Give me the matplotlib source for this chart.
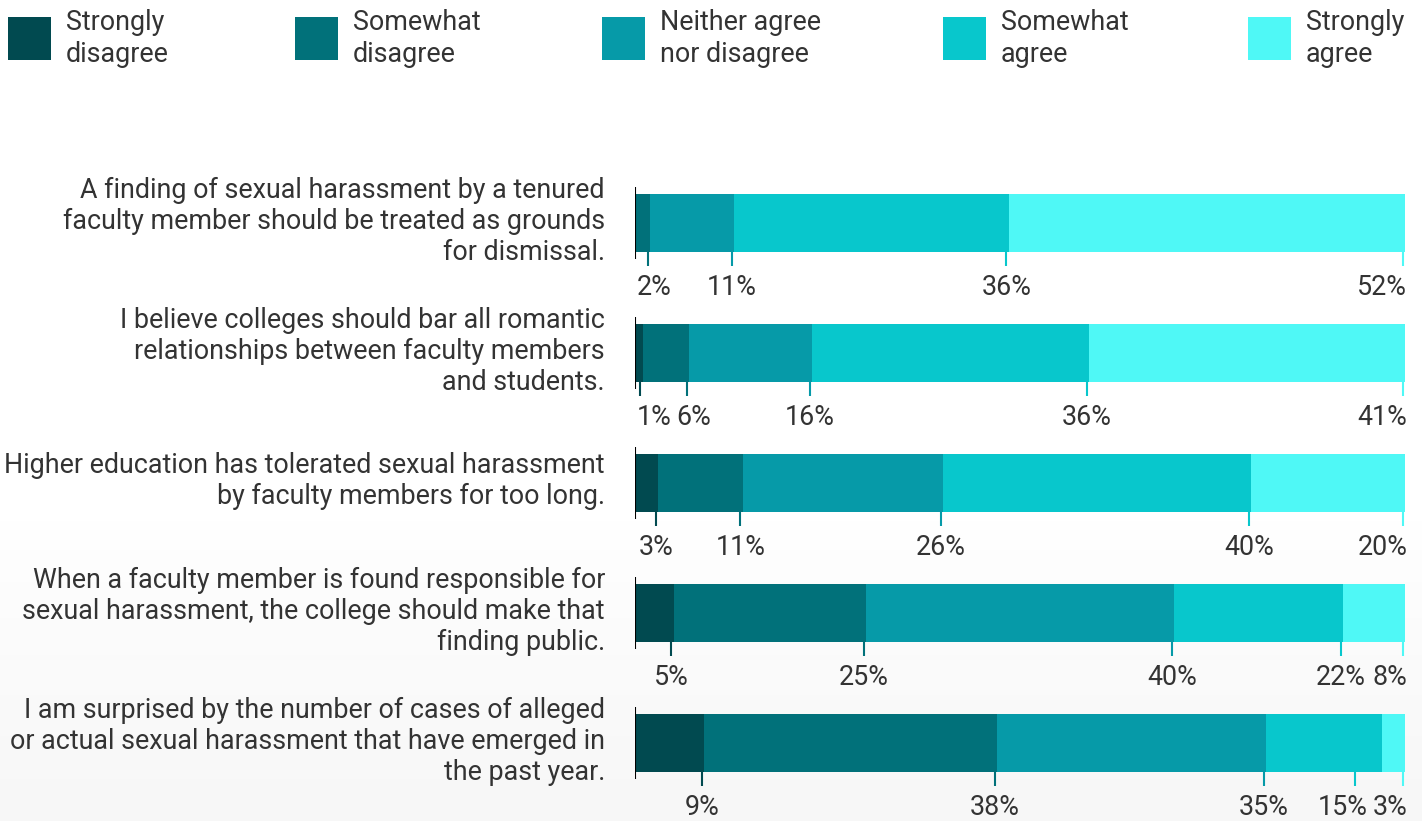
#
# Survey on faculty sexual harassment - stacked horizontal bars
#

import numpy as np
import matplotlib
matplotlib.use('Agg')
from matplotlib import pyplot as plt
from matplotlib.patches import Rectangle

plt.rcParams['font.family'] = ['Roboto', 'DejaVu Sans']
plt.rcParams['font.size'] = 19.4

# ============================= data ======================================

categories = ['Strongly\ndisagree', 'Somewhat\ndisagree', 'Neither agree\nnor disagree',
              'Somewhat\nagree', 'Strongly\nagree']
colors = ['#014a50', '#01717a', '#069aa8', '#08c7cc', '#4ff8f6']

questions = [
    'A finding of sexual harassment by a tenured\nfaculty member should be treated as grounds\nfor dismissal.',
    'I believe colleges should bar all romantic\nrelationships between faculty members\nand students.',
    'Higher education has tolerated sexual harassment\nby faculty members for too long.',
    'When a faculty member is found responsible for\nsexual harassment, the college should make that\nfinding public.',
    'I am surprised by the number of cases of alleged\nor actual sexual harassment that have emerged in\nthe past year.',
]

strongly_disagree = [0, 1, 3, 5, 9]
somewhat_disagree = [2, 6, 11, 25, 38]
neither = [11, 16, 26, 40, 35]
somewhat_agree = [36, 36, 40, 22, 15]
strongly_agree = [52, 41, 20, 8, 3]

# =========================================================================

W, H = 1422, 821
TXT = '#333333'
fig = plt.figure(figsize=(W / 100, H / 100), dpi=100)

# background + legend layer in pixel coordinates
bg = fig.add_axes([0, 0, 1, 1], zorder=0)
bg.set_xlim(0, W)
bg.set_ylim(H, 0)
bg.axis('off')
yy = np.arange(H)
shade = 1.0 - 0.035 * np.clip((yy - 500) / (H - 500), 0, 1) ** 0.8
bg.imshow(np.repeat(shade[:, None], 4, axis=1), cmap='gray', vmin=0, vmax=1,
          extent=[0, W, H, 0], aspect='auto', zorder=0)

leg_x = [8, 295, 602, 943, 1248]
for lx, cat, col in zip(leg_x, categories, colors):
  bg.add_patch(Rectangle((lx, 17), 43, 43, color=col, lw=0, zorder=2))
  l1, l2 = cat.split('\n')
  bg.text(lx + 58, 30, l1, color=TXT, va='baseline', ha='left', zorder=3)
  bg.text(lx + 58, 61.5, l2, color=TXT, va='baseline', ha='left', zorder=3)

# bars
x0, x1 = 635, 1405
rowpx = 129.9
top, bot = 223 - rowpx / 2, 742.5 + rowpx / 2
ax = fig.add_axes([x0 / W, 1 - bot / H, (x1 - x0) / W, (bot - top) / H], zorder=1)
ax.patch.set_alpha(0)
ax.set_xlim(0, 100)
ax.set_ylim(4.5, -0.5)
ax.axis('off')

data = np.array([strongly_disagree, somewhat_disagree, neither,
                 somewhat_agree, strongly_agree], dtype=float).T
totals = data.sum(axis=1)
norm = data / totals[:, None] * 100
left = np.zeros(len(questions))
rows = np.arange(len(questions))
half = 29 / rowpx
for k in range(5):
  ax.barh(rows, norm[:, k], left=left, height=2 * half, color=colors[k], lw=0)
  left += norm[:, k]

ax.vlines(np.zeros(len(rows)), rows - half - 7 / rowpx, rows + half + 7 / rowpx,
          color='black', lw=1.5, zorder=4)

fig.canvas.draw()
rend = fig.canvas.get_renderer()
ppu = (x1 - x0) / 100.0
gap = 5 / ppu


def text_width(s):
  t = ax.text(0, 0, s)
  w = t.get_window_extent(rend).width / ppu
  t.remove()
  return w


for r in rows:
  ends = np.cumsum(norm[r])
  idx = [k for k in range(5) if data[r, k] > 0]
  labs = ['%d%%' % data[r, k] for k in idx]
  ticks = [ends[k] - 0.3 for k in idx]
  ws = [text_width(s) for s in labs]
  cs = list(ticks)
  n = len(idx)
  cs[-1] = 100.3 - ws[-1] / 2
  cs[0] = max(cs[0], 0.2 + ws[0] / 2)
  for i in range(1, n - 1):
    cs[i] = max(cs[i], cs[i - 1] + (ws[i - 1] + ws[i]) / 2 + gap)
  for i in range(n - 2, -1, -1):
    cs[i] = min(cs[i], cs[i + 1] - (ws[i] + ws[i + 1]) / 2 - gap)
  for i in range(n - 1):
    ticks[i] = min(ticks[i], cs[i] + ws[i] / 2 - 0.25 * ws[i])
  for i, k in enumerate(idx):
    ax.vlines(ticks[i], r + half, r + half + 14 / rowpx, color=colors[k], lw=1.5, zorder=3)
    ax.annotate(labs[i], xy=(cs[i], r + half), xytext=(0, -43), textcoords='offset pixels',
                ha='center', va='baseline', color=TXT)

  lines = questions[r].split('\n')
  base = 6 - 31 * (len(lines) - 1) / 2.0
  for j, line in enumerate(lines):
    ax.annotate(line, xy=(0, r), xycoords=ax.get_yaxis_transform(),
                xytext=(-30, -(base + 31 * j)), textcoords='offset pixels',
                ha='right', va='baseline', color=TXT)

fig.savefig('out.png', dpi=100)
